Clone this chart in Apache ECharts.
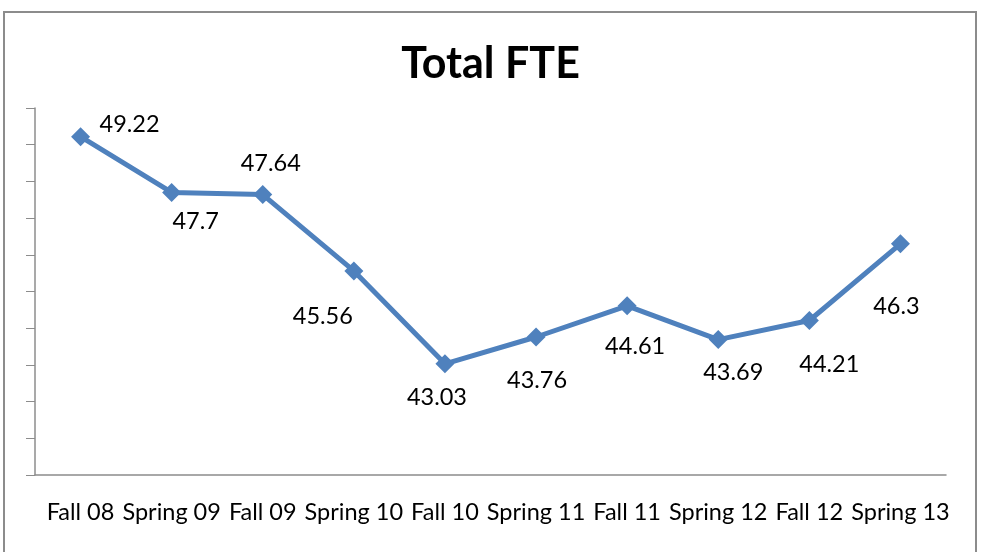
<!DOCTYPE html>
<html><head><meta charset="utf-8">
<script src="https://cdn.jsdelivr.net/npm/echarts@6/dist/echarts.min.js"></script>
<style>html,body{margin:0;padding:0;background:#fff}#c{width:981px;height:552px}</style>
</head><body><div id="c"></div>
<script>
const categories = ["Fall 08","Spring 09","Fall 09","Spring 10","Fall 10","Spring 11","Fall 11","Spring 12","Fall 12","Spring 13"];
const fteValues = [49.22, 47.7, 47.64, 45.56, 43.03, 43.76, 44.61, 43.69, 44.21, 46.3];
const chartTitle = "Total FTE";
// label offsets (layout only), in px relative to the point
const labelOffsets = [[49,-12],[24,29],[8,-31],[-31,45],[-8,34],[1,43],[8,41],[15,33],[20,44],[-4,63]];

const chart = echarts.init(document.getElementById('c'));
const FONT = 'Lato, "Open Sans", sans-serif';
chart.setOption({
  animation: false,
  title: {text: chartTitle, left: 'center', top: 38, textStyle: {fontFamily: FONT, fontWeight: 'bold', fontSize: 43, color: '#000'}},
  graphic: [{type: 'rect', shape: {x: 4, y: 12, width: 972, height: 560}, style: {fill: 'none', stroke: '#8c8c8c', lineWidth: 2}, silent: true}],
  grid: {left: 35, right: 35, top: 108, bottom: 77},
  xAxis: {type: 'category', data: categories, boundaryGap: true,
    axisLine: {lineStyle: {color: '#8c8c8c', width: 1.5}}, axisTick: {show: false},
    axisLabel: {color: '#000', fontFamily: FONT, fontSize: 23.5, margin: 25, interval: 0}},
  yAxis: {type: 'value', min: 40, max: 50, interval: 1,
    axisLine: {show: true, lineStyle: {color: '#8c8c8c', width: 1.5}},
    axisTick: {show: true, length: 9, lineStyle: {color: '#8c8c8c'}},
    axisLabel: {show: false}, splitLine: {show: false}},
  series: [{type: 'line', data: fteValues.map((v, i) => ({value: v, label: {offset: labelOffsets[i]}})),
    symbol: 'diamond', symbolSize: 19,
    lineStyle: {color: '#4F81BD', width: 5}, itemStyle: {color: '#4F81BD'},
    label: {show: true, position: 'inside', color: '#000', fontFamily: FONT, fontSize: 23.5, formatter: p => String(p.value)}}]
});
</script></body></html>
